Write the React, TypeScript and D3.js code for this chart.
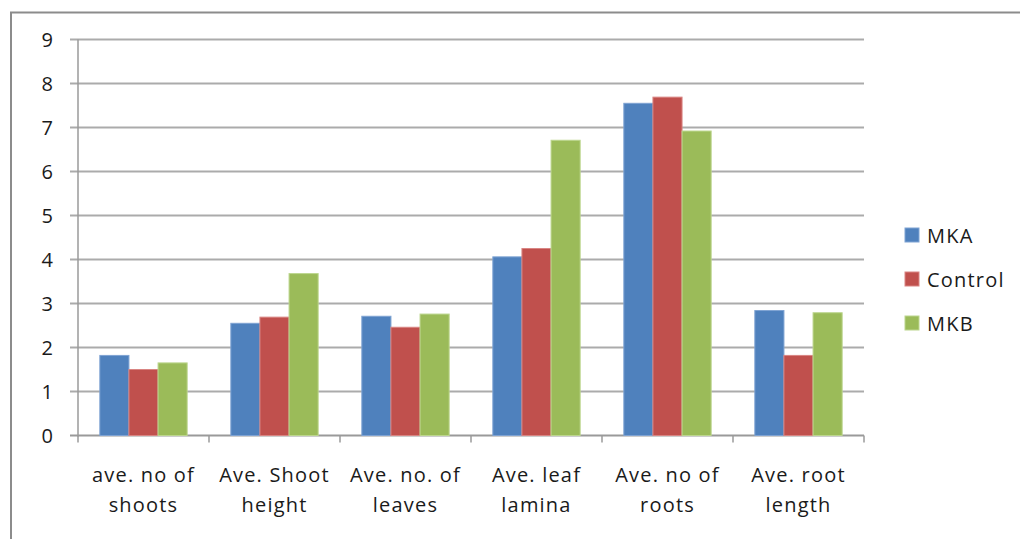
import React from "react";
import * as d3 from "d3";

const categories = [
  ["ave. no of", "shoots"],
  ["Ave. Shoot", "height"],
  ["Ave. no. of", "leaves"],
  ["Ave. leaf", "lamina"],
  ["Ave. no of", "roots"],
  ["Ave. root", "length"],
];
const seriesNames = ["MKA", "Control", "MKB"];
const mka = [1.82, 2.55, 2.71, 4.06, 7.55, 2.84];
const control = [1.5, 2.69, 2.46, 4.25, 7.69, 1.82];
const mkb = [1.65, 3.68, 2.76, 6.71, 6.92, 2.79];
const yTicks = [0, 1, 2, 3, 4, 5, 6, 7, 8, 9];
const colors = ["#4F81BD", "#C0504D", "#9BBB59"];
const borders = ["#7fa3d3", "#d98583", "#bcd68e"];

const W = 1020;
const H = 539;
const left = 78;
const right = 864;
const top = 39.5;
const bottom = 435.5;
const FONT = "'Open Sans', 'Liberation Sans', sans-serif";
const FS = 20;
const LS = 1.2;

export default function App() {
  const series = [mka, control, mkb];
  const x0 = d3
    .scaleBand<number>()
    .domain(d3.range(categories.length))
    .range([left, right])
    .paddingInner(0.3333)
    .paddingOuter(0.16667);
  const xStep = (right - left) / categories.length;
  const x1 = d3
    .scaleBand<number>()
    .domain([0, 1, 2])
    .range([0, x0.bandwidth()]);
  const y = d3.scaleLinear().domain([0, 9]).range([bottom, top]);

  return (
    <svg
      width={W}
      height={H}
      style={{ position: "absolute", left: 0, top: 0, background: "#fff" }}
      fontFamily={FONT}
    >
      <rect x={0} y={0} width={W} height={H} fill="#fff" />
      {/* outer frame */}
      <path d={`M11,${H + 2} L11,12.5 L${W + 2},12.5`} fill="none" stroke="#8c8c8c" strokeWidth={2} />
      {/* gridlines */}
      {yTicks.map((t) => (
        <g key={t}>
          <line
            x1={left - 8}
            x2={right}
            y1={y(t)}
            y2={y(t)}
            stroke={t === 0 ? "#9a9a9a" : "#ababab"}
            strokeWidth={2}
          />
          <text
            x={53}
            y={y(t)}
            textAnchor="end"
            dominantBaseline="central"
            fontSize={FS}
            fill="#1a1a1a"
          >
            {t}
          </text>
        </g>
      ))}
      {/* y axis */}
      <line x1={left} x2={left} y1={top} y2={bottom + 1} stroke="#9a9a9a" strokeWidth={1.5} />
      {/* category ticks */}
      {d3.range(categories.length + 1).map((i) => (
        <line
          key={i}
          x1={left + i * xStep}
          x2={left + i * xStep}
          y1={bottom}
          y2={bottom + 7}
          stroke="#9a9a9a"
          strokeWidth={1.5}
        />
      ))}
      {/* bars */}
      {categories.map((c, i) =>
        series.map((s, j) => (
          <rect
            key={`${i}-${j}`}
            x={(x0(i) as number) + (x1(j) as number)}
            y={y(s[i])}
            width={x1.bandwidth()}
            height={bottom - y(s[i])}
            fill={colors[j]}
            stroke={borders[j]}
            strokeWidth={1}
          />
        ))
      )}
      {/* category labels */}
      {categories.map((c, i) => (
        <text
          key={i}
          x={left + (i + 0.5) * xStep}
          textAnchor="middle"
          fontSize={FS}
          letterSpacing={LS}
          fill="#1a1a1a"
        >
          <tspan x={left + (i + 0.5) * xStep} y={482}>
            {c[0]}
          </tspan>
          <tspan x={left + (i + 0.5) * xStep} y={512}>
            {c[1]}
          </tspan>
        </text>
      ))}
      {/* legend */}
      {seriesNames.map((n, j) => (
        <g key={n} transform={`translate(905, ${228 + j * 44})`}>
          <rect x={0} y={0} width={14} height={14} fill={colors[j]} stroke={borders[j]} strokeWidth={1} />
          <text x={22} y={7} dominantBaseline="central" fontSize={FS} letterSpacing={LS} fill="#1a1a1a">
            {n}
          </text>
        </g>
      ))}
    </svg>
  );
}
